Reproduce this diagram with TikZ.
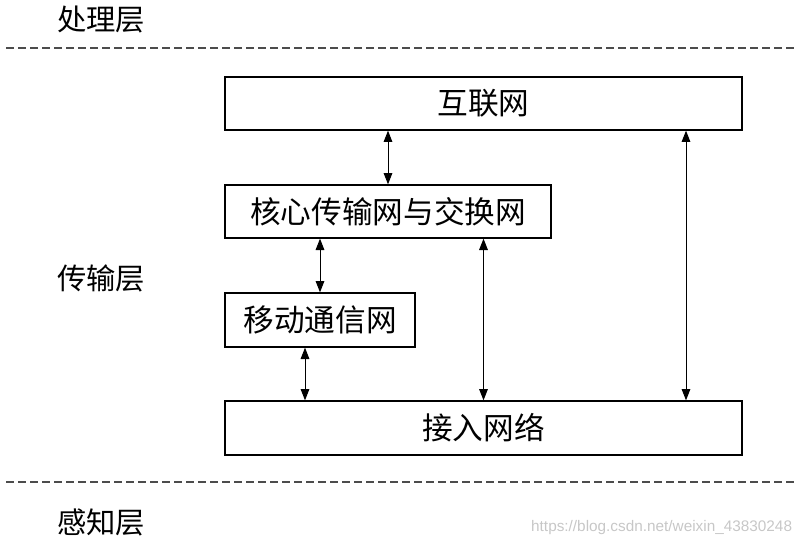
\documentclass[tikz,border=0pt]{standalone}
\usepackage{fontspec}
\setmainfont{Noto Sans CJK SC}
\newfontfamily\wmfont{Liberation Sans}
\usetikzlibrary{arrows.meta}

\begin{document}
\begin{tikzpicture}[x=0.75pt,y=-0.75pt,<->,>={Triangle[length=8.5pt,width=6.5pt]},
		line width=0.75pt,
		box/.style={rectangle,draw,line width=1pt,inner sep=0pt,font=\fontsize{23pt}{27pt}\selectfont},
		layer/.style={font=\fontsize{22pt}{26pt}\selectfont},
		sep/.style={-,dash pattern=on 6pt off 3pt,line width=0.9pt,black!70}]

		\useasboundingbox (0,0) rectangle (802,549);

		\node[layer] (a) at (101,20) {处理层};
		\node[layer] (b) at (101,278) {传输层};
		\node[layer] (c) at (101,522) {感知层};

		\draw[sep] (6,48) -- (797,48);
		\draw[sep] (6,482) -- (797,482);

		\node[box,minimum width=387.75pt,minimum height=39.75pt] (1) at (483.5,103.5) {互联网};
		\node[box,minimum width=244.5pt,minimum height=39.75pt] (2) at (388,211.5) {核心传输网与交换网};
		\node[box,minimum width=142.5pt,minimum height=40.5pt] (3) at (320,320) {移动通信网};
		\node[box,minimum width=387.75pt,minimum height=40.5pt] (4) at (483.5,428) {接入网络};

		\coordinate (r) at (686,0);

		\path (2.north) edge (2.north |- 1.south)
		(3.north) edge (3.north |- 2.south)
		([xshift=-11.25pt]3.south) edge ([xshift=-11.25pt]3.south |- 4.north)
		(4.north) edge (4.north |- 2.south)
		(r |- 4.north) edge (r |- 1.south);

		\node[anchor=east,text=black!22,font=\wmfont\fontsize{11.5pt}{13pt}\selectfont] (wm) at (797,528) {https://blog.csdn.net/weixin\_43830248};
	\end{tikzpicture}
\end{document}
